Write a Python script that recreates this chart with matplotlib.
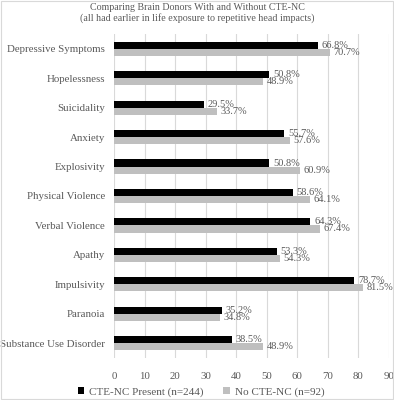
import numpy as np
import matplotlib.pyplot as plt
from matplotlib.patches import Rectangle

plt.rcParams['font.family'] = ['Liberation Serif', 'DejaVu Serif']

categories = ['Depressive Symptoms', 'Hopelessness', 'Suicidality', 'Anxiety',
              'Explosivity', 'Physical Violence', 'Verbal Violence', 'Apathy',
              'Impulsivity', 'Paranoia', 'Substance Use Disorder']
cte_present = [66.8, 50.8, 29.5, 55.7, 50.8, 58.6, 64.3, 53.3, 78.7, 35.2, 38.5]
no_cte = [70.7, 48.9, 33.7, 57.6, 60.9, 64.1, 67.4, 54.3, 81.5, 34.8, 48.9]
xticks = [0, 10, 20, 30, 40, 50, 60, 70, 80, 90]

txt = '#595959'
fig = plt.figure(figsize=(3.94, 4.0), dpi=100)
ax = fig.add_axes([114 / 394, 1 - 358 / 400, 275 / 394, 324 / 400])

y = np.arange(len(categories))
h = 0.24
ax.barh(y - h / 2, cte_present, height=h, color='black', label='CTE-NC Present (n=244)', zorder=3)
ax.barh(y + h / 2, no_cte, height=h, color='#bfbfbf', label='No CTE-NC (n=92)', zorder=3)

# data labels, one per bar, just past the bar end
for i in range(len(categories)):
    ax.text(cte_present[i] + 1.2, y[i] - h / 2, '%.1f%%' % cte_present[i],
            va='center', ha='left', fontsize=7.5, color=txt, zorder=4)
    ax.text(no_cte[i] + 1.2, y[i] + h / 2, '%.1f%%' % no_cte[i],
            va='center', ha='left', fontsize=7.5, color=txt, zorder=4)

ax.set_xlim(0, 90)
ax.set_ylim(len(categories) - 0.5, -0.5)
ax.set_xticks(xticks)
ax.set_yticks(y)
ax.set_yticklabels(categories)
ax.tick_params(axis='both', length=0, colors=txt, labelsize=7.8)
ax.tick_params(axis='x', pad=10)
ax.tick_params(axis='y', pad=6.5)
ax.grid(axis='x', color='#d9d9d9', linewidth=0.8, zorder=0)
for s in ax.spines.values():
    s.set_visible(False)

fig.text(0.5, 1 - 7 / 400, 'Comparing Brain Donors With and Without CTE-NC',
         ha='center', va='center', fontsize=7.2, color=txt)
fig.text(0.5, 1 - 18 / 400, '(all had earlier in life exposure to repetitive head impacts)',
         ha='center', va='center', fontsize=7.2, color=txt)

fig.legend(loc='center', bbox_to_anchor=(201 / 394, 1 - 392 / 400), ncol=2, frameon=False,
           fontsize=8, labelcolor=txt, handlelength=0.6, handleheight=0.6,
           handletextpad=0.4, columnspacing=1.8, borderpad=0, borderaxespad=0)

fig.patches.append(Rectangle((0.002, 0.002), 0.996, 0.996, transform=fig.transFigure,
                             fill=False, edgecolor='#d9d9d9', linewidth=0.8))

fig.savefig('out.png', dpi=100)
